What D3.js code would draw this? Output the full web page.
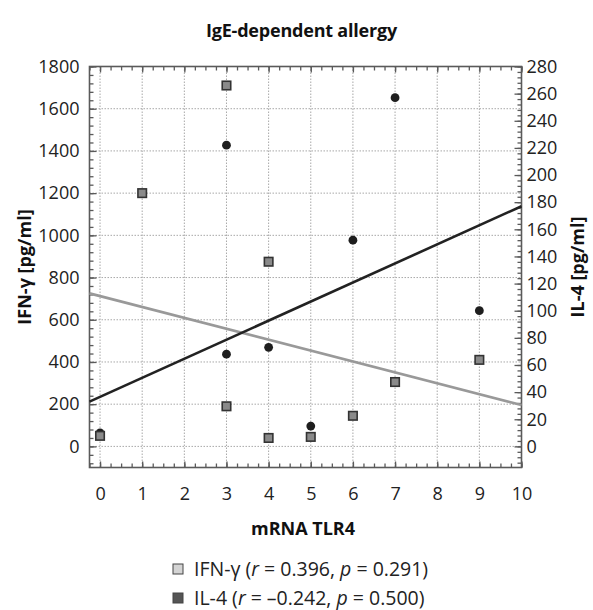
<!DOCTYPE html>
<html><head><meta charset="utf-8">
<script src="https://cdn.jsdelivr.net/npm/d3@7"></script>
<style>
body{margin:0;background:#fff;}
svg{display:block;font-family:"Open Sans",sans-serif;}
</style></head>
<body><svg id="c" width="593" height="610"></svg>
<script>
// ---- data ----
const ifnX = [0, 1, 3, 3, 4, 4, 5, 6, 7, 9];
const ifnY = [50, 1200, 1710, 190, 875, 40, 45, 145, 305, 410];
const il4X = [0, 3, 3, 4, 5, 6, 7, 9];
const il4Y = [10, 222, 68, 73, 15, 152, 257, 100];
const ifnFitX = [-0.25, 10];
const ifnFitY = [725, 196];
const il4FitX = [-0.25, 10];
const il4FitY = [33, 177];
const xTicks = [0,1,2,3,4,5,6,7,8,9,10];
const yLeftTicks = [0,200,400,600,800,1000,1200,1400,1600,1800];
const yRightTicks = [0,20,40,60,80,100,120,140,160,180,200,220,240,260,280];
const title = "IgE-dependent allergy";
const xTitle = "mRNA TLR4";
const yLeftTitle = "IFN-γ [pg/ml]";
const yRightTitle = "IL-4 [pg/ml]";

// ---- layout ----
const L = 89.5, R = 521.5, T = 66.5, B = 467.5;
const svg = d3.select("#c");
const x = d3.scaleLinear().domain([-0.25, 10]).range([L, R]);
const yL = d3.scaleLinear().domain([-100, 1800]).range([B, T]);
const yR = d3.scaleLinear().domain([-100 * 280 / 1800, 280]).range([B, T]);
const frameCol = "#5a5a5a";
const FS = 18;

// grid
const g = svg.append("g");
g.selectAll("line.vg").data(xTicks.filter(d => d < 10)).enter().append("line")
  .attr("x1", d => x(d)).attr("x2", d => x(d)).attr("y1", T).attr("y2", B)
  .attr("stroke", "#a8a8a8").attr("stroke-width", 1).attr("stroke-dasharray", "1.5,1.5");
g.selectAll("line.hg").data(yLeftTicks.filter(d => d < 1800)).enter().append("line")
  .attr("y1", d => yL(d)).attr("y2", d => yL(d)).attr("x1", L).attr("x2", R)
  .attr("stroke", "#a8a8a8").attr("stroke-width", 1).attr("stroke-dasharray", "1.5,1.5");

function styleAxis(sel) {
  sel.select(".domain").remove();
  sel.selectAll(".tick line").attr("stroke", frameCol).attr("stroke-width", 1.3);
  sel.selectAll("text").attr("font-family", "Open Sans").attr("font-size", FS).attr("fill", "#222");
}
const xMinor = d3.range(-0.25, 10.001, 0.25);
const yLMinor = d3.range(-80, 1800.1, 40);
const yRMinor = d3.range(-12, 280.1, 4);

const axB = svg.append("g").attr("transform", `translate(0,${B})`)
  .call(d3.axisBottom(x).tickValues(xMinor).tickSize(-4).tickFormat(""));
styleAxis(axB);
const axB2 = svg.append("g").attr("transform", `translate(0,${B})`)
  .call(d3.axisBottom(x).tickValues(xTicks).tickSize(-6).tickPadding(20).tickFormat(d3.format("d")));
styleAxis(axB2);
const axT = svg.append("g").attr("transform", `translate(0,${T})`)
  .call(d3.axisTop(x).tickValues(xMinor).tickSize(-4).tickFormat(""));
styleAxis(axT);
const axT2 = svg.append("g").attr("transform", `translate(0,${T})`)
  .call(d3.axisTop(x).tickValues(xTicks).tickSize(-6).tickFormat(""));
styleAxis(axT2);
const axLm = svg.append("g").attr("transform", `translate(${L},0)`)
  .call(d3.axisLeft(yL).tickValues(yLMinor).tickSize(-4).tickFormat(""));
styleAxis(axLm);
const axL = svg.append("g").attr("transform", `translate(${L},0)`)
  .call(d3.axisLeft(yL).tickValues(yLeftTicks).tickSize(-7).tickPadding(10).tickFormat(d3.format("d")));
styleAxis(axL);
const axRm = svg.append("g").attr("transform", `translate(${R},0)`)
  .call(d3.axisRight(yR).tickValues(yRMinor).tickSize(-4).tickFormat(""));
styleAxis(axRm);
const axR = svg.append("g").attr("transform", `translate(${R},0)`)
  .call(d3.axisRight(yR).tickValues(yRightTicks).tickSize(-7).tickPadding(5).tickFormat(d3.format("d")));
styleAxis(axR);

svg.append("rect").attr("x", L).attr("y", T).attr("width", R - L).attr("height", B - T)
  .attr("fill", "none").attr("stroke", frameCol).attr("stroke-width", 1.6);

const lineL = d3.line().x(d => x(d[0])).y(d => yL(d[1]));
const lineR = d3.line().x(d => x(d[0])).y(d => yR(d[1]));
svg.append("path").datum(ifnFitX.map((v, i) => [v, ifnFitY[i]])).attr("d", lineL)
  .attr("stroke", "#999").attr("stroke-width", 2.6).attr("fill", "none");
svg.append("path").datum(il4FitX.map((v, i) => [v, il4FitY[i]])).attr("d", lineR)
  .attr("stroke", "#222").attr("stroke-width", 2.6).attr("fill", "none");

svg.selectAll("circle.il4").data(il4X.map((v, i) => [v, il4Y[i]])).enter().append("circle")
  .attr("cx", d => x(d[0])).attr("cy", d => yR(d[1])).attr("r", 4.4).attr("fill", "#1e1e1e");
const s = 8.5;
svg.selectAll("rect.ifn").data(ifnX.map((v, i) => [v, ifnY[i]])).enter().append("rect")
  .attr("x", d => x(d[0]) - s / 2).attr("y", d => yL(d[1]) - s / 2).attr("width", s).attr("height", s)
  .attr("fill", "#8a8a8a").attr("stroke", "#333").attr("stroke-width", 1.6);

svg.append("text").attr("x", 301.5).attr("y", 36.5).attr("text-anchor", "middle")
  .attr("font-size", 18).attr("letter-spacing", -0.2).attr("font-weight", "bold").attr("fill", "#111").text(title);
svg.append("text").attr("x", 303).attr("y", 535).attr("text-anchor", "middle")
  .attr("font-size", 18).attr("font-weight", "bold").attr("fill", "#111").text(xTitle);
svg.append("text").attr("transform", "translate(31,267) rotate(-90)").attr("text-anchor", "middle")
  .attr("font-size", 18).attr("font-weight", "bold").attr("fill", "#111").text(yLeftTitle);
svg.append("text").attr("transform", "translate(584,267) rotate(-90)").attr("text-anchor", "middle")
  .attr("font-size", 18).attr("font-weight", "bold").attr("fill", "#111").text(yRightTitle);

const legend = [
  {fill: "#d4d4d4", parts: [["IFN-γ (", false], ["r", true], [" = 0.396, ", false], ["p", true], [" = 0.291)", false]]},
  {fill: "#555", parts: [["IL-4 (", false], ["r", true], [" = –0.242, ", false], ["p", true], [" = 0.500)", false]]}
];
legend.forEach((l, i) => {
  const base = 576 + i * 29;
  svg.append("rect").attr("x", 173).attr("y", base - 12).attr("width", 10).attr("height", 10)
    .attr("fill", l.fill).attr("stroke", "#444").attr("stroke-width", 1);
  const t = svg.append("text").attr("x", 194).attr("y", base).attr("font-size", 19.5).attr("fill", "#222");
  l.parts.forEach(p => t.append("tspan").attr("font-style", p[1] ? "italic" : "normal").text(p[0]));
});
</script>
</body></html>
